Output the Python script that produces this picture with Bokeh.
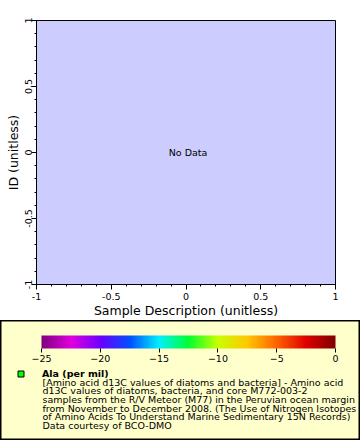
from bokeh.plotting import figure
from bokeh.models import (Range1d, SingleIntervalTicker, PrintfTickFormatter, Label,
                          ColorBar, LinearColorMapper, FixedTicker,
                          Legend, LegendItem, ColumnDataSource)
from bokeh.embed import file_html
from bokeh.resources import INLINE

# ---------------- data ----------------
x_limits = [-1, 1]
y_limits = [-1, 1]
sample_description = []      # no data in this dataset
id_values = []
ala_values = []
x_label = "Sample Description (unitless)"
y_label = "ID (unitless)"
no_data_text = "No Data"
series_name = "Ala (per mil)"
colorbar_limits = [-25, 0]
colorbar_ticks = [-25, -20, -15, -10, -5, 0]
description_lines = [
    "[Amino acid d13C values of diatoms and bacteria] - Amino acid",
    "d13C values of diatoms, bacteria, and core M772-003-2",
    "samples from the R/V Meteor (M77) in the Peruvian ocean margin",
    "from November to December 2008. (The Use of Nitrogen Isotopes",
    "of Amino Acids To Understand Marine Sedimentary 15N Records)",
    "Data courtesy of BCO-DMO",
]
palette_stops = ["#800080", "#E000E0", "#6A00FF", "#0050FF", "#00F0FF", "#00FF30",
                 "#C8FF00", "#FFC800", "#FF6400", "#E00000", "#800000"]

# ---------------- style ----------------
FONT = "DejaVu Sans"
SMALL = "9.5px"
BIG = "12.5px"


def build_palette(stops, n=256):
    rgb = [tuple(int(s[i:i + 2], 16) for i in (1, 3, 5)) for s in stops]
    out = []
    for k in range(n):
        t = k / (n - 1) * (len(rgb) - 1)
        i = min(int(t), len(rgb) - 2)
        f = t - i
        c = [round(rgb[i][j] + (rgb[i + 1][j] - rgb[i][j]) * f) for j in range(3)]
        out.append("#%02x%02x%02x" % tuple(c))
    return out


# ================= main plot =================
p = figure(width=360, height=320, output_backend="svg", toolbar_location=None,
           x_range=Range1d(*x_limits), y_range=Range1d(*y_limits),
           min_border_left=36, min_border_right=25, min_border_top=20,
           min_border_bottom=35)
p.background_fill_color = "#CCCCFF"
p.border_fill_color = "white"
p.outline_line_color = "black"
p.outline_line_width = 1
p.grid.visible = False

for ax in (p.xaxis[0], p.yaxis[0]):
    ax.ticker = SingleIntervalTicker(interval=0.5, num_minor_ticks=5)
    ax.formatter = PrintfTickFormatter(format="%g")
    ax.major_tick_out = 5
    ax.major_tick_in = 0
    ax.minor_tick_out = 2
    ax.minor_tick_in = 0
    ax.axis_line_color = "black"
    ax.major_tick_line_color = "black"
    ax.minor_tick_line_color = "black"
    ax.major_label_text_font = FONT
    ax.major_label_text_font_size = SMALL
    ax.major_label_text_color = "black"
    ax.axis_label_text_font = FONT
    ax.axis_label_text_font_size = BIG
    ax.axis_label_text_font_style = "normal"
    ax.axis_label_text_color = "black"

p.xaxis[0].axis_label = x_label
p.xaxis[0].major_label_standoff = 3
p.xaxis[0].axis_label_standoff = 0
p.yaxis[0].axis_label = y_label
p.yaxis[0].major_label_orientation = "vertical"
p.yaxis[0].major_label_standoff = 0
p.yaxis[0].axis_label_standoff = 1

# "No Data" note
p.add_layout(Label(x=0, y=0, text=no_data_text, text_align="center",
                   text_baseline="alphabetic", x_offset=2, text_font=FONT,
                   text_font_size=SMALL, text_color="black"))

# data series (empty)
src = ColumnDataSource(dict(x=sample_description, y=id_values, v=ala_values))
marker_style = dict(marker="square", size=6, fill_color="#00FF00",
                    line_color="black", line_width=1)
p.scatter(x="x", y="y", source=src, **marker_style)

# ================= legend panel (separate root, no frame alignment) =================
lp = figure(width=360, height=120, output_backend="svg", toolbar_location=None,
            x_range=Range1d(0, 1), y_range=Range1d(0, 1),
            min_border_left=0, min_border_right=0, min_border_top=0,
            min_border_bottom=0)
lp.axis.visible = False
lp.grid.visible = False
lp.background_fill_color = "#FFFFCC"
lp.border_fill_color = "#FFFFCC"
lp.outline_line_color = "black"
lp.outline_line_width = 2

# legend key: a proxy source with one undrawable (NaN) point so the key is shown
key_src = ColumnDataSource(dict(x=[float("nan")], y=[float("nan")]))
r = lp.scatter(x="x", y="y", source=key_src, **marker_style)

mapper = LinearColorMapper(palette=build_palette(palette_stops),
                           low=colorbar_limits[0], high=colorbar_limits[1])
cb = ColorBar(color_mapper=mapper, orientation="horizontal", location=(41, 76),
              width=294, height=13, padding=0,
              ticker=FixedTicker(ticks=colorbar_ticks),
              major_tick_out=4, major_tick_in=0, major_tick_line_color="black",
              minor_tick_line_color=None, bar_line_color=None,
              border_line_color=None, background_fill_alpha=0,
              major_label_text_font=FONT, major_label_text_font_size=SMALL,
              major_label_text_color="black", label_standoff=2)
lp.add_layout(cb)

legend = Legend(items=[LegendItem(label=series_name, renderers=[r])],
                location=(13, 59.5), padding=0, margin=0, spacing=0,
                glyph_width=15, glyph_height=15, label_standoff=14,
                label_height=10, label_text_font=FONT,
                label_text_font_size=SMALL, label_text_font_style="bold",
                label_text_baseline="alphabetic",
                label_text_color="black", background_fill_alpha=0,
                border_line_alpha=0)
lp.add_layout(legend)

for i, line in enumerate(description_lines):
    lp.add_layout(Label(x=42, y=58.3 - 8.6 * i, x_units="screen", y_units="screen",
                        text=line, text_align="left", text_baseline="alphabetic",
                        text_font=FONT, text_font_size=SMALL, text_color="black"))

open("out.html", "w").write(file_html([p, lp], INLINE))
